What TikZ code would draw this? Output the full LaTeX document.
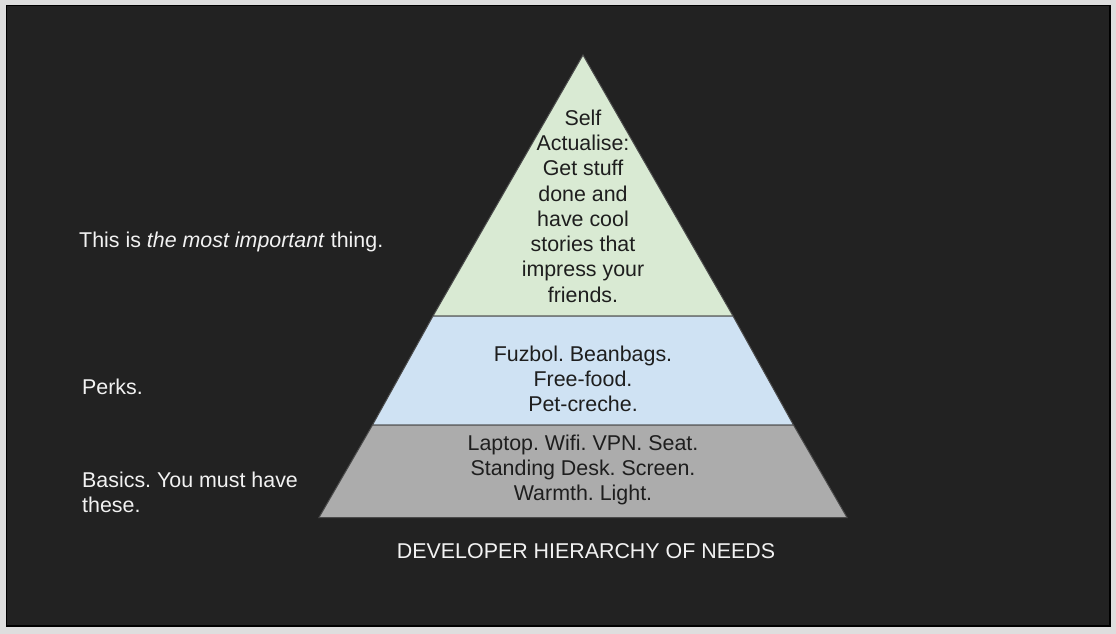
\documentclass[tikz,border=0pt]{standalone}
\usepackage{fontspec}
\setmainfont{Liberation Sans}
\frenchspacing
\definecolor{outerbg}{HTML}{DEDEDE}
\definecolor{slidebg}{HTML}{222222}
\definecolor{tiergreen}{HTML}{D9EAD3}
\definecolor{tierblue}{HTML}{CFE2F3}
\definecolor{tiergray}{HTML}{ACACAC}
\definecolor{tierline}{HTML}{4A4A4A}
\definecolor{lighttext}{HTML}{F2F2F2}
\definecolor{darktext}{HTML}{1E1E1E}
\tikzset{
  tier/.style={draw=tierline, line width=1pt, line join=miter},
  tiertext/.style={inner sep=0pt, align=center, text=darktext, font=\fontsize{21.4}{25.3}\selectfont},
  sidelabel/.style={inner sep=0pt, anchor=west, align=left, text=lighttext, font=\fontsize{21.4}{25.3}\selectfont},
}
\begin{document}
\begin{tikzpicture}[x=1pt,y=-1pt]
\useasboundingbox (0,0) rectangle (1116,634);
\fill[outerbg] (0,0) rectangle (1116,634);
\fill[slidebg] (6,5) rectangle (1110,626);
\draw[black, line width=1.5pt] (6.5,5.5) rectangle (1110,626);
% pyramid
\coordinate (apex) at (583,55);
\coordinate (gl) at (433,316);
\coordinate (gr) at (733,316);
\coordinate (bl) at (372.5,425);
\coordinate (br) at (793.5,425);
\coordinate (sl) at (319,517.5);
\coordinate (sr) at (847,517.5);
\filldraw[tier, fill=tiergreen] (apex) -- (gr) -- (gl) -- cycle;
\filldraw[tier, fill=tierblue] (gl) -- (gr) -- (br) -- (bl) -- cycle;
\filldraw[tier, fill=tiergray] (bl) -- (br) -- (sr) -- (sl) -- cycle;
% tier texts
\node[tiertext] (top) at (583,206) {Self\\Actualise:\\Get stuff\\done and\\have cool\\stories that\\impress your\\friends.};
\node[tiertext] (mid) at (583,379) {Fuzbol. Beanbags.\\Free-food.\\Pet-creche.};
\node[tiertext] (base) at (583,470) {Laptop. Wifi. VPN. Seat.\\Standing Desk. Screen.\\Warmth. Light.};
% side labels
\node[sidelabel] (lab1) at (79,242) {This is \textit{the most important} thing.};
\node[sidelabel] (lab2) at (82,387) {Perks.};
\node[sidelabel] (lab3) at (82,492) {Basics. You must have\\these.};
% title
\node[inner sep=0pt, text=lighttext, font=\fontsize{21.4}{25.3}\selectfont] (title) at (586,551) {DEVELOPER HIERARCHY OF NEEDS};
\end{tikzpicture}
\end{document}
